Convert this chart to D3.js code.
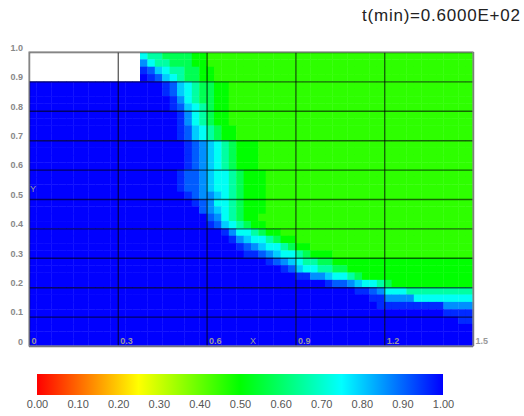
<!DOCTYPE html>
<html>
<head>
<meta charset="utf-8">
<script src="https://cdn.jsdelivr.net/npm/d3@7"></script>
<style>
  body { margin: 0; background: #fff; }
  svg { display: block; font-family: "Liberation Sans", Arial, sans-serif; }
</style>
</head>
<body>
<svg id="chart"></svg>
<script>
const width = 524;
const height = 416;

// field, one string per row (top row first), 60 cells of 0.025 each
// '9' = 1.00 (blue) ... '0' = plateau green, '.' = no value (white)
const levelCodes = ["0", "1", "2", "3", "4", "5", "6", "7", "8", "9"];
const levelValues = [0.455, 0.5, 0.58, 0.66, 0.74, 0.8, 0.86, 0.91, 0.96, 1.0];

const fieldRows = [
  ".......... .....43322 2211000000 0000000000 0000000000 0000000000",
  ".......... .....64332 2211000000 0000000000 0000000000 0000000000",
  ".......... .....87543 3221100000 0000000000 0000000000 0000000000",
  ".......... .....98754 3221100000 0000000000 0000000000 0000000000",
  "9999999999 9999999987 5432211000 0000000000 0000000000 0000000000",
  "9999999999 9999999987 5432211000 0000000000 0000000000 0000000000",
  "9999999999 9999999998 6432211000 0000000000 0000000000 0000000000",
  "9999999999 9999999998 7543211000 0000000000 0000000000 0000000000",
  "9999999999 9999999999 8643211000 0000000000 0000000000 0000000000",
  "9999999999 9999999999 8643211000 0000000000 0000000000 0000000000",
  "9999999999 9999999999 8754321100 0000000000 0000000000 0000000000",
  "9999999999 9999999999 8754321100 0000000000 0000000000 0000000000",
  "9999999999 9999999999 9876543211 1000000000 0000000000 0000000000",
  "9999999999 9999999999 9876543211 1000000000 0000000000 0000000000",
  "9999999999 9999999999 9876543211 1000000000 0000000000 0000000000",
  "9999999999 9999999999 9876543211 1000000000 0000000000 0000000000",
  "9999999999 9999999999 8776544321 1100000000 0000000000 0000000000",
  "9999999999 9999999999 8776544321 1100000000 0000000000 0000000000",
  "9999999999 9999999999 8776544321 1100000000 0000000000 0000000000",
  "9999999999 9999999999 9876654321 1100000000 0000000000 0000000000",
  "9999999999 9999999999 9987644321 1100000000 0000000000 0000000000",
  "9999999999 9999999999 9997654321 1100000000 0000000000 0000000000",
  "9999999999 9999999999 9999764321 1000000000 0000000000 0000000000",
  "9999999999 9999999999 9999875432 1100000000 0000000000 0000000000",
  "9999999999 9999999999 9999998644 3211000000 0000000000 0000000000",
  "9999999999 9999999999 9999999865 4432110000 0000000000 0000000000",
  "9999999999 9999999999 9999999987 6544321100 0000000000 0000000000",
  "9999999999 9999999999 9999999998 8765443211 1000000000 0000000000",
  "9999999999 9999999999 9999999999 9987654332 2111111111 1111111111",
  "9999999999 9999999999 9999999999 9999875443 3221111111 1111111111",
  "9999999999 9999999999 9999999999 9999998866 5443211111 1111111111",
  "9999999999 9999999999 9999999999 9999999999 8776544321 1111111111",
  "9999999999 9999999999 9999999999 9999999999 9999887644 4333333333",
  "9999999999 9999999999 9999999999 9999999999 9999998866 6644444444",
  "9999999999 9999999999 9999999999 9999999999 9999999888 8888886666",
  "9999999999 9999999999 9999999999 9999999999 9999999999 9999998888",
  "9999999999 9999999999 9999999999 9999999999 9999999999 9999999988",
  "9999999999 9999999999 9999999999 9999999999 9999999999 9999999999",
  "9999999999 9999999999 9999999999 9999999999 9999999999 9999999999",
  "9999999999 9999999999 9999999999 9999999999 9999999999 9999999999"
];
const cellW = 0.025;
const cellH = 0.025;

const xTicks = [0, 0.3, 0.6, 0.9, 1.2, 1.5];
const xTickLabels = ["0", "0.3", "0.6", "0.9", "1.2", "1.5"];
const yTicks = [0, 0.1, 0.2, 0.3, 0.4, 0.5, 0.6, 0.7, 0.8, 0.9, 1.0];
const yTickLabels = ["0", "0.1", "0.2", "0.3", "0.4", "0.5", "0.6", "0.7", "0.8", "0.9", "1.0"];
const colorStops = [0, 0.25, 0.5, 0.75, 1];
const colorStopColors = ["#ff0000", "#ffff00", "#00ff00", "#00ffff", "#0000ff"];
const colorTicks = [0, 0.1, 0.2, 0.3, 0.4, 0.5, 0.6, 0.7, 0.8, 0.9, 1.0];
const titleText = "t(min)=0.6000E+02";

const svg = d3.select("#chart")
    .attr("width", width)
    .attr("height", height);

const x = d3.scaleLinear().domain([0, 1.5]).range([29, 473]);
const y = d3.scaleLinear().domain([0, 1]).range([346, 52]);
const color = d3.scaleLinear().domain(colorStops).range(colorStopColors);

const defs = svg.append("defs");
defs.append("filter").attr("id", "soft")
    .append("feGaussianBlur").attr("stdDeviation", 0.7);

const cells = [];
const nRows = fieldRows.length;
fieldRows.forEach((row, i) => {
    const codes = row.replace(/ /g, "").split("");
    const j = nRows - 1 - i;
    codes.forEach((ch, c) => {
        if (ch === ".") return;
        cells.push({ x0: c * cellW, y0: j * cellH, v: levelValues[levelCodes.indexOf(ch)] });
    });
});

const plot = svg.append("g").attr("filter", "url(#soft)");

plot.selectAll("rect.cell")
    .data(cells)
    .enter()
    .append("rect")
    .attr("class", "cell")
    .attr("x", d => x(d.x0))
    .attr("y", d => y(d.y0 + cellH))
    .attr("width", x(cellW) - x(0) + 0.4)
    .attr("height", y(0) - y(cellH) + 0.4)
    .attr("fill", d => color(d.v));

// grid lines
const yGrid = plot.append("g")
    .attr("transform", `translate(${x(0)},0)`)
    .call(d3.axisLeft(y).tickValues(yTicks).tickSize(-(x(1.5) - x(0))).tickFormat(""));
yGrid.select(".domain").remove();
yGrid.selectAll("line").attr("stroke", "#000").attr("stroke-opacity", 0.6).attr("stroke-width", 1.4);

const xGrid = plot.append("g")
    .attr("transform", `translate(0,${y(0)})`)
    .call(d3.axisBottom(x).tickValues(xTicks).tickSize(-(y(0) - y(1))).tickFormat(""));
xGrid.select(".domain").remove();
xGrid.selectAll("line").attr("stroke", "#000").attr("stroke-opacity", 0.6).attr("stroke-width", 1.4);

plot.append("rect")
    .attr("x", x(0))
    .attr("y", y(1))
    .attr("width", x(1.5) - x(0))
    .attr("height", y(0) - y(1))
    .attr("fill", "none")
    .attr("stroke", "#999")
    .attr("stroke-width", 1.2);

// y tick labels
const yAxis = svg.append("g")
    .attr("transform", `translate(${x(0)},0)`)
    .call(d3.axisLeft(y).tickValues(yTicks).tickSize(0).tickPadding(6)
        .tickFormat((d, i) => yTickLabels[i]));
yAxis.select(".domain").remove();
yAxis.selectAll("text")
    .attr("dy", "-0.2em")
    .style("font-size", "9px")
    .style("font-weight", "bold")
    .attr("fill", "#888");

// x tick labels (drawn inside the plot)
const xAxis = svg.append("g")
    .attr("transform", `translate(0,${y(0)})`)
    .call(d3.axisBottom(x).tickValues(xTicks).tickSize(0).tickPadding(0)
        .tickFormat((d, i) => xTickLabels[i]));
xAxis.select(".domain").remove();
xAxis.selectAll("text")
    .attr("y", -2)
    .attr("dy", 0)
    .attr("dx", 2)
    .attr("text-anchor", "start")
    .style("font-size", "9px")
    .style("font-weight", "bold")
    .attr("fill", "#999");

svg.append("text")
    .attr("x", 250)
    .attr("y", 344)
    .style("font-size", "9px")
    .attr("fill", "#999")
    .text("X");

svg.append("text")
    .attr("x", 30)
    .attr("y", 192)
    .style("font-size", "9px")
    .attr("fill", "#999")
    .text("Y");

// title
svg.append("text")
    .attr("x", 362)
    .attr("y", 21)
    .attr("textLength", 158)
    .style("font-size", "17px")
    .attr("fill", "#222")
    .text(titleText);

// colour bar
const cb = d3.scaleLinear().domain([0, 1]).range([37, 443]);
const grad = defs.append("linearGradient").attr("id", "cbar")
    .attr("x1", "0%").attr("x2", "100%").attr("y1", "0%").attr("y2", "0%");
grad.selectAll("stop")
    .data(colorStops)
    .enter()
    .append("stop")
    .attr("offset", d => (d * 100) + "%")
    .attr("stop-color", d => color(d));

svg.append("rect")
    .attr("x", cb(0))
    .attr("y", 374)
    .attr("width", cb(1) - cb(0))
    .attr("height", 21)
    .attr("fill", "url(#cbar)");

const cbAxis = svg.append("g")
    .attr("transform", "translate(0,398)")
    .call(d3.axisBottom(cb).tickValues(colorTicks).tickSize(0).tickPadding(2)
        .tickFormat(d3.format(".2f")));
cbAxis.select(".domain").remove();
cbAxis.selectAll("text")
    .style("font-size", "11px")
    .attr("fill", "#555");
</script>
</body>
</html>
